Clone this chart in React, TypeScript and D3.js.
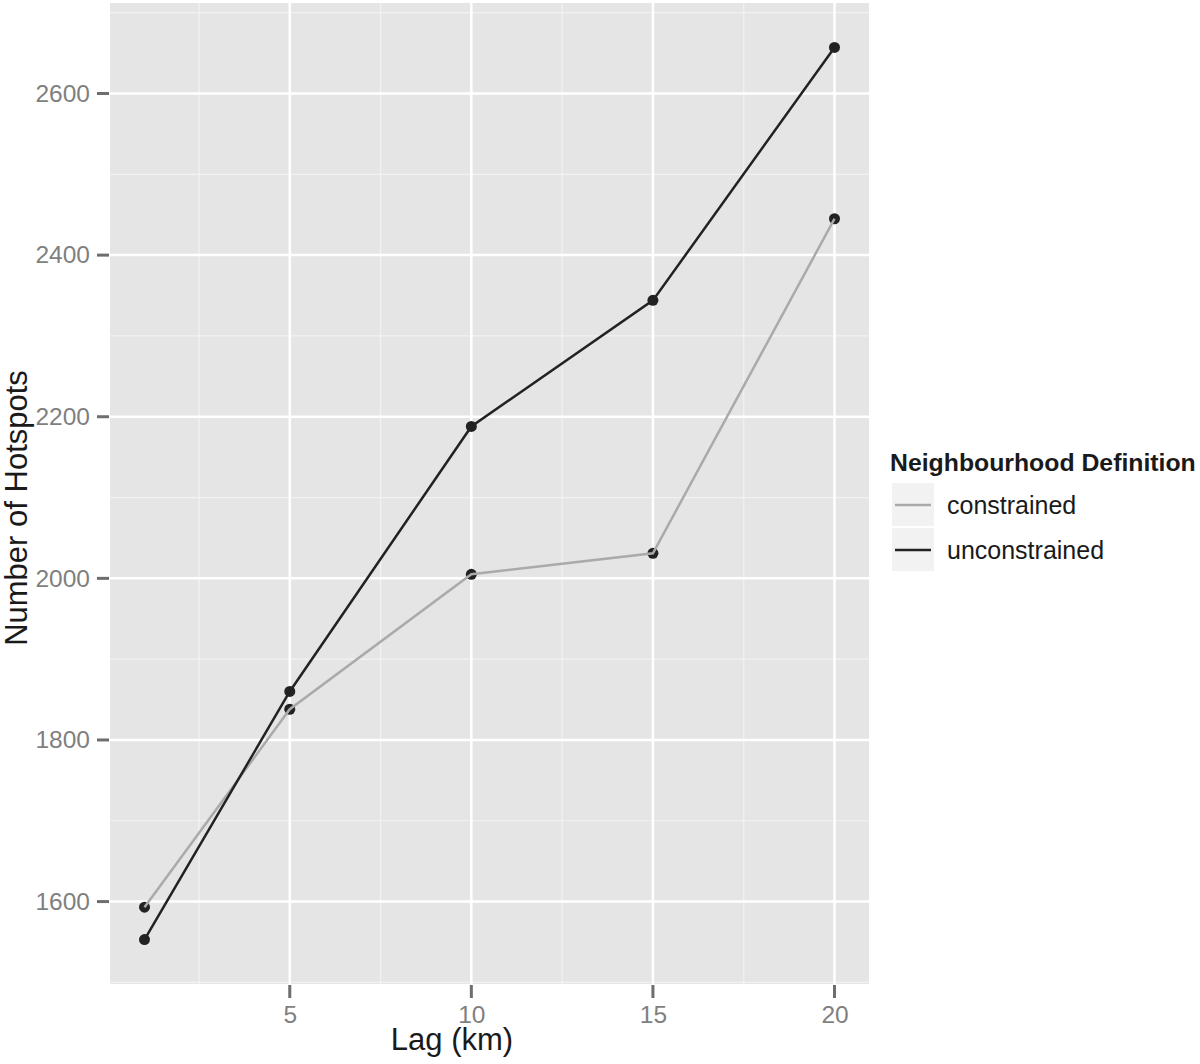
import * as d3 from "d3";
import { useEffect, useRef } from "react";

const lags = [1, 5, 10, 15, 20];
const constrained = [1593, 1838, 2005, 2031, 2445];
const unconstrained = [1553, 1860, 2188, 2344, 2657];
const xTicks = [5, 10, 15, 20];
const xMinor = [2.5, 7.5, 12.5, 17.5];
const yTicks = [1600, 1800, 2000, 2200, 2400, 2600];
const yMinor = [1500, 1700, 1900, 2100, 2300, 2500, 2700];
const seriesNames = ["constrained", "unconstrained"];
const seriesColors = ["#aaaaaa", "#222222"];

const W = 1200;
const H = 1064;
const panel = { x1: 110, y1: 3, x2: 869, y2: 984 };
const font = "Liberation Sans, Arial, Helvetica, sans-serif";

const draw = (svgEl: SVGSVGElement) => {
  const svg = d3.select(svgEl);
  svg.selectAll("*").remove();

  const xScale = d3.scaleLinear().domain([0.05, 20.95]).range([panel.x1, panel.x2]);
  const yScale = d3.scaleLinear().domain([1498, 2712]).range([panel.y2, panel.y1]);

  svg.append("rect").attr("width", W).attr("height", H).attr("fill", "white");

  // panel background
  svg.append("rect")
    .attr("x", panel.x1).attr("y", panel.y1)
    .attr("width", panel.x2 - panel.x1).attr("height", panel.y2 - panel.y1)
    .attr("fill", "#e5e5e5");

  const grid = svg.append("g");
  grid.selectAll(".ymin").data(yMinor).join("line")
    .attr("x1", panel.x1).attr("x2", panel.x2)
    .attr("y1", d => yScale(d)).attr("y2", d => yScale(d))
    .attr("stroke", "#f2f2f2").attr("stroke-width", 1.2);
  grid.selectAll(".xmin").data(xMinor).join("line")
    .attr("y1", panel.y1).attr("y2", panel.y2)
    .attr("x1", d => xScale(d)).attr("x2", d => xScale(d))
    .attr("stroke", "#f2f2f2").attr("stroke-width", 1.2);
  grid.selectAll(".ymaj").data(yTicks).join("line")
    .attr("x1", panel.x1).attr("x2", panel.x2)
    .attr("y1", d => yScale(d)).attr("y2", d => yScale(d))
    .attr("stroke", "white").attr("stroke-width", 2.5);
  grid.selectAll(".xmaj").data(xTicks).join("line")
    .attr("y1", panel.y1).attr("y2", panel.y2)
    .attr("x1", d => xScale(d)).attr("x2", d => xScale(d))
    .attr("stroke", "white").attr("stroke-width", 2.5);

  // axes
  const xAxis = svg.append("g")
    .attr("transform", `translate(0,${panel.y2})`)
    .call(d3.axisBottom(xScale).tickValues(xTicks).tickFormat(d3.format("d")).tickSize(0).tickPadding(22));
  const yAxis = svg.append("g")
    .attr("transform", `translate(${panel.x1},0)`)
    .call(d3.axisLeft(yScale).tickValues(yTicks).tickFormat(d3.format("d")).tickSize(0).tickPadding(20));
  [xAxis, yAxis].forEach(a => {
    a.select(".domain").remove();
    a.selectAll("text").attr("fill", "#7f7f7f").style("font-size", "24.5px").style("font-family", font);
  });
  // tick marks (as small rects)
  svg.append("g").selectAll("rect").data(xTicks).join("rect")
    .attr("x", d => xScale(d) - 1.5).attr("width", 3)
    .attr("y", panel.y2 + 1).attr("height", 13)
    .attr("fill", "#6e6e6e");
  svg.append("g").selectAll("rect").data(yTicks).join("rect")
    .attr("y", d => yScale(d) - 1.5).attr("height", 3)
    .attr("x", panel.x1 - 13).attr("width", 12)
    .attr("fill", "#6e6e6e");

  const series = [constrained, unconstrained];
  const line = d3.line<number>().x((d, i) => xScale(lags[i])).y(d => yScale(d));

  // points first, lines on top
  series.forEach((vals) => {
    svg.append("g").selectAll("circle").data(vals).join("circle")
      .attr("cx", (d, i) => xScale(lags[i])).attr("cy", d => yScale(d))
      .attr("r", 5.5).attr("fill", "#222222");
  });
  series.forEach((vals, s) => {
    svg.append("path")
      .attr("d", line(vals))
      .attr("fill", "none")
      .attr("stroke", seriesColors[s])
      .attr("stroke-width", 2.5);
  });

  // axis titles
  svg.append("text")
    .attr("x", 452).attr("y", 1050)
    .attr("text-anchor", "middle")
    .style("font-family", font).style("font-size", "31px").attr("fill", "#1a1a1a")
    .text("Lag (km)");
  svg.append("text")
    .attr("transform", `translate(27,508) rotate(-90)`)
    .attr("text-anchor", "middle")
    .style("font-family", font).style("font-size", "31px").attr("fill", "#1a1a1a")
    .text("Number of Hotspots");

  // legend
  const legend = svg.append("g");
  legend.append("text")
    .attr("x", 890).attr("y", 471)
    .style("font-family", font).style("font-size", "24.8px").style("font-weight", "bold")
    .attr("fill", "#1a1a1a")
    .text("Neighbourhood Definition");
  const rows = legend.selectAll(".row").data(seriesNames).join("g")
    .attr("transform", (d, i) => `translate(892,${483 + i * 45})`);
  rows.append("rect").attr("width", 42).attr("height", 43).attr("fill", "#f2f2f2");
  rows.append("line")
    .attr("x1", 3).attr("x2", 39).attr("y1", 22).attr("y2", 22)
    .attr("stroke", (d, i) => seriesColors[i]).attr("stroke-width", 2.5);
  rows.append("text")
    .attr("x", 55).attr("y", 31)
    .style("font-family", font).style("font-size", "25px").attr("fill", "#1a1a1a")
    .text(d => d);
};

export default function App() {
  const ref = useRef<SVGSVGElement>(null);
  useEffect(() => {
    if (ref.current) draw(ref.current);
  }, []);
  return (
    <svg ref={ref} width={W} height={H}
      style={{ position: "absolute", left: 0, top: 0, display: "block" }} />
  );
}
